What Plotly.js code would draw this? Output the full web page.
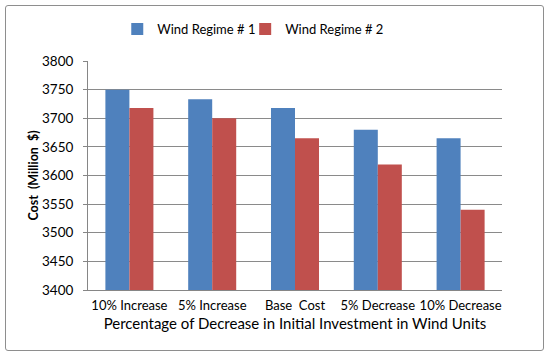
<!DOCTYPE html>
<html><head><meta charset="utf-8">
<script src="https://cdn.plot.ly/plotly-3.0.1.min.js"></script>
<style>body{margin:0;background:#fff}#wrap{position:relative;width:550px;height:360px}#chart{width:550px;height:360px}
#frame{position:absolute;left:5px;top:5px;width:537px;height:344px;border:1.5px solid #8e8e8e;border-radius:3px;pointer-events:none}</style>
</head><body><div id="wrap"><div id="chart"></div><div id="frame"></div></div>
<script>
const categories = ["10% Increase","5% Increase","Base  Cost","5% Decrease","10% Decrease"];
const regime1 = [3750, 3733, 3718, 3680, 3665];
const regime2 = [3718, 3700, 3665, 3619, 3540];
const seriesNames = ["Wind Regime # 1","Wind Regime # 2"];
const yTicks = [3400,3450,3500,3550,3600,3650,3700,3750,3800];
const font = "Lato, 'Open Sans', sans-serif";
const traces = [
 {type:'bar', x:categories, y:regime1, name:seriesNames[0], marker:{color:'#4F81BD'}, legend:'legend'},
 {type:'bar', x:categories, y:regime2, name:seriesNames[1], marker:{color:'#C0504D'}, legend:'legend2'}
];
const legBase = {orientation:'h', xanchor:'left', y:1.14, yanchor:'middle', font:{size:13}, indentation:-8, bgcolor:'rgba(0,0,0,0)'};
const layout = {
 width:550, height:360,
 margin:{l:88, r:48, t:61, b:70},
 paper_bgcolor:'rgba(0,0,0,0)', plot_bgcolor:'#fff',
 font:{family:font, size:12, color:'#000'},
 barmode:'group', bargap:0.42, bargroupgap:0,
 showlegend:true,
 legend:Object.assign({}, legBase, {x:0.09}),
 legend2:Object.assign({}, legBase, {x:0.399}),
 xaxis:{showline:true, linecolor:'#868686', linewidth:1, ticks:'', tickfont:{size:13}, automargin:false, ticklabelstandoff:3,
   title:{text:'Percentage of Decrease in Initial Investment in Wind Units', font:{size:15}, standoff:6}},
 yaxis:{range:[3400,3800], tickvals:yTicks, showgrid:true, gridcolor:'#8a8a8a', gridwidth:1, zeroline:false,
   showline:true, linecolor:'#868686', ticks:'outside', ticklen:4, tickcolor:'#868686', tickfont:{size:13.5}, automargin:false,
   ticklabelstandoff:7,
   title:{text:'<b>Cost  (Million  $)</b>', font:{size:12.5}, standoff:0}}
};
Plotly.newPlot('chart', traces, layout, {displayModeBar:false, staticPlot:true});
</script></body></html>
